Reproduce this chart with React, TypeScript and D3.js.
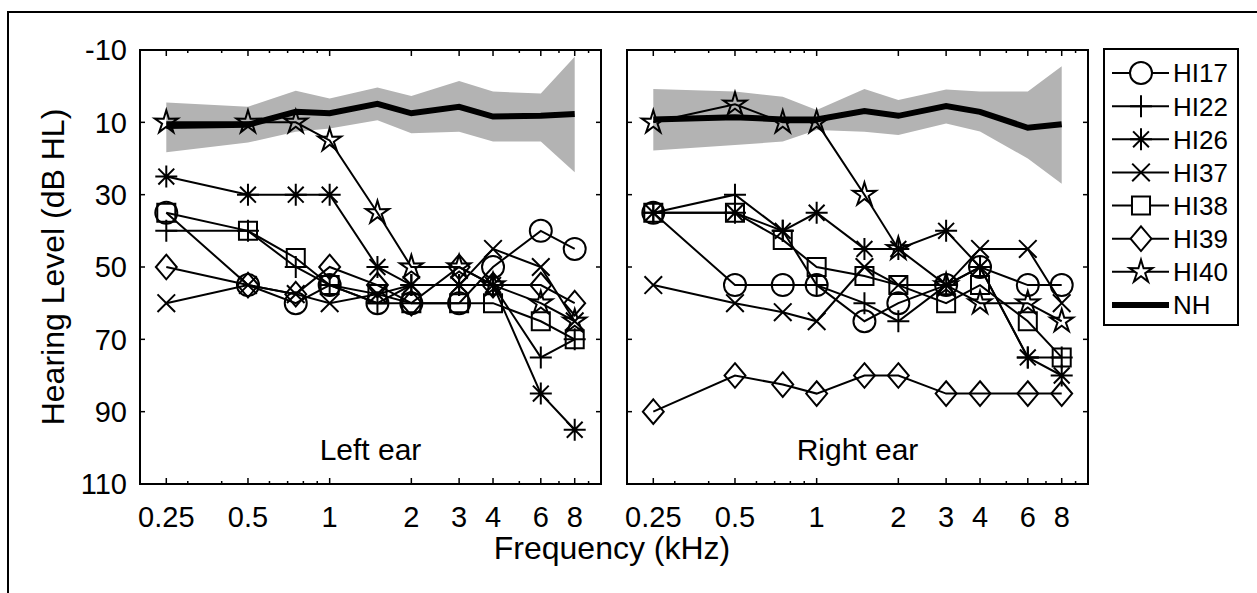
import React, { useEffect, useRef } from 'react';
import * as d3 from 'd3';

// test frequencies (kHz)
const freqs = [0.25, 0.5, 0.75, 1, 1.5, 2, 3, 4, 6, 8];
const majorTicks = [0.25, 0.5, 1, 2, 3, 4, 6, 8];
const minorTicks = [0.3, 0.4, 0.6, 0.7, 0.8, 0.9, 5, 7, 9];
const yTicks = [-10, 10, 30, 50, 70, 90, 110];

const subjects = ['HI17', 'HI22', 'HI26', 'HI37', 'HI38', 'HI39', 'HI40'];
const markerNames = ['circle', 'plus', 'asterisk', 'times', 'square', 'diamond', 'star'];

// left ear thresholds (dB HL)
const leftHI17 = [35, 55, 60, 55, 60, 60, 60, 50, 40, 45];
const leftHI22 = [40, 40, 50, 55, 60, 55, 55, 55, 75, 70];
const leftHI26 = [25, 30, 30, 30, 50, 55, 55, 55, 85, 95];
const leftHI37 = [60, 55, 57.5, 60, 57.5, 55, 55, 45, 50, 65];
const leftHI38 = [35, 40, 47.5, 55, 57.5, 60, 60, 60, 65, 70];
const leftHI39 = [50, 55, 57.5, 50, 55, 60, 50, 55, 55, 60];
const leftHI40 = [10, 10, 10, 15, 35, 50, 50, 55, 60, 65];

// right ear thresholds (dB HL)
const rightHI17 = [35, 55, 55, 55, 65, 60, 55, 50, 55, 55];
const rightHI22 = [35, 30, 40, 55, 60, 65, 55, 50, 75, 75];
const rightHI26 = [35, 35, 40, 35, 45, 45, 40, 50, 75, 80];
const rightHI37 = [55, 60, 62.5, 65, 50, 55, 55, 45, 45, 60];
const rightHI38 = [35, 35, 42.5, 50, 52.5, 55, 60, 55, 65, 75];
const rightHI39 = [90, 80, 82.5, 85, 80, 80, 85, 85, 85, 85];
const rightHI40 = [10, 5, 10, 10, 30, 45, 55, 60, 60, 65];

// normal hearing mean and range
const leftNH = [11, 10.7, 7.1, 7.5, 4.9, 7.5, 5.7, 8.4, 8.2, 7.7];
const leftNHmin = [4.5, 5.7, 1.3, 3.4, 0.4, 2.7, -1.4, 1.5, 2.0, -8.1];
const leftNHmax = [18.3, 15.6, 12.6, 11.7, 9.4, 13.0, 12.6, 15.3, 15.3, 23.8];
const rightNH = [9.2, 8.6, 9.2, 9.2, 6.9, 8.2, 5.5, 7.1, 11.5, 10.5];
const rightNHmin = [0.8, 1.5, 2.9, 6.6, 0.8, 3.8, 0.9, 1.5, 1.5, -5.5];
const rightNHmax = [17.8, 16.3, 15.3, 12.1, 12.6, 13.5, 10.3, 12.5, 20, 27];

const FONT = '"Liberation Sans", Arial, Helvetica, sans-serif';

// marker shapes, size = radius
const symbolTypes: { [k: string]: any } = {
  circle: { draw(c: any, r: number) { c.moveTo(r, 0); c.arc(0, 0, r, 0, 2 * Math.PI); } },
  plus: { draw(c: any, r: number) { c.moveTo(-r, 0); c.lineTo(r, 0); c.moveTo(0, -r); c.lineTo(0, r); } },
  asterisk: {
    draw(c: any, r: number) {
      const d = r * 0.72;
      c.moveTo(-r, 0); c.lineTo(r, 0); c.moveTo(0, -r); c.lineTo(0, r);
      c.moveTo(-d, -d); c.lineTo(d, d); c.moveTo(-d, d); c.lineTo(d, -d);
    }
  },
  times: {
    draw(c: any, r: number) {
      const d = r * 0.8;
      c.moveTo(-d, -d); c.lineTo(d, d); c.moveTo(-d, d); c.lineTo(d, -d);
    }
  },
  square: {
    draw(c: any, r: number) {
      const s = r * 0.82;
      c.moveTo(-s, -s); c.lineTo(s, -s); c.lineTo(s, s); c.lineTo(-s, s); c.closePath();
    }
  },
  diamond: {
    draw(c: any, r: number) {
      const w = r * 0.95, h = r * 1.12;
      c.moveTo(0, -h); c.lineTo(w, 0); c.lineTo(0, h); c.lineTo(-w, 0); c.closePath();
    }
  },
  star: {
    draw(c: any, r: number) {
      for (let i = 0; i < 10; i++) {
        const a = -Math.PI / 2 + i * Math.PI / 5;
        const rr = i % 2 ? r * 0.4 : r * 1.1;
        if (i === 0) c.moveTo(rr * Math.cos(a), rr * Math.sin(a));
        else c.lineTo(rr * Math.cos(a), rr * Math.sin(a));
      }
      c.closePath();
    }
  }
};

const markerPath = (name: string) => d3.symbol().type(symbolTypes[name]).size(11)() as string;

const panels = [
  { x0: 140, label: 'Left ear', series: [leftHI17, leftHI22, leftHI26, leftHI37, leftHI38, leftHI39, leftHI40],
    nh: leftNH, nhMin: leftNHmin, nhMax: leftNHmax, yLabels: true },
  { x0: 627, label: 'Right ear', series: [rightHI17, rightHI22, rightHI26, rightHI37, rightHI38, rightHI39, rightHI40],
    nh: rightNH, nhMin: rightNHmin, nhMax: rightNHmax, yLabels: false }
];

const panelW = 461;
const top = 50, bottom = 484;

export default function App() {
  const svgRef = useRef<SVGSVGElement>(null);

  useEffect(() => {
    const svg = d3.select(svgRef.current);
    svg.selectAll('*').remove();

    // outer frame
    svg.append('rect')
      .attr('x', 8).attr('y', 12).attr('width', 1400).attr('height', 800)
      .attr('fill', 'none').attr('stroke', '#000').attr('stroke-width', 2);

    const y = d3.scaleLinear().domain([-10, 110]).range([top, bottom]);

    panels.forEach(p => {
      const x = d3.scaleLog().domain([0.2, 10]).range([p.x0, p.x0 + panelW]);
      const g = svg.append('g');

      // NH range band
      const area = d3.area<number>()
        .x((d, i) => x(freqs[i]))
        .y0((d, i) => y(p.nhMin[i]))
        .y1((d, i) => y(p.nhMax[i]));
      g.append('path').datum(p.nh).attr('d', area).attr('fill', '#b3b3b3');

      const line = d3.line<number>().x((d, i) => x(freqs[i])).y(d => y(d));
      g.append('path').datum(p.nh).attr('d', line)
        .attr('fill', 'none').attr('stroke', '#000').attr('stroke-width', 6);

      // subjects
      p.series.forEach((vals, si) => {
        g.append('path').datum(vals).attr('d', line)
          .attr('fill', 'none').attr('stroke', '#000').attr('stroke-width', 2);
        g.selectAll('.m' + si).data(vals).enter()
          .append('path')
          .attr('class', 'm' + si)
          .attr('transform', (d, i) => 'translate(' + x(freqs[i]) + ',' + y(d) + ')')
          .attr('d', markerPath(markerNames[si]))
          .attr('fill', 'none').attr('stroke', '#000').attr('stroke-width', 2);
      });

      // box
      g.append('rect')
        .attr('x', p.x0).attr('y', top).attr('width', panelW).attr('height', bottom - top)
        .attr('fill', 'none').attr('stroke', '#000').attr('stroke-width', 2);

      // x ticks top & bottom
      const xt = majorTicks.map(t => ({ t, len: 6 })).concat(minorTicks.map(t => ({ t, len: 3 })));
      g.selectAll('.xtb').data(xt).enter().append('line')
        .attr('x1', d => x(d.t)).attr('x2', d => x(d.t))
        .attr('y1', bottom).attr('y2', d => bottom - d.len)
        .attr('stroke', '#000').attr('stroke-width', 1.5);
      g.selectAll('.xtt').data(xt).enter().append('line')
        .attr('x1', d => x(d.t)).attr('x2', d => x(d.t))
        .attr('y1', top).attr('y2', d => top + d.len)
        .attr('stroke', '#000').attr('stroke-width', 1.5);

      g.selectAll('.xl').data(majorTicks).enter().append('text')
        .attr('x', d => x(d)).attr('y', 527)
        .attr('text-anchor', 'middle')
        .attr('font-family', FONT).attr('font-size', 29)
        .text(d => String(d));

      // y ticks both sides
      yTicks.forEach(v => {
        g.append('line').attr('x1', p.x0).attr('x2', p.x0 + 5).attr('y1', y(v)).attr('y2', y(v))
          .attr('stroke', '#000').attr('stroke-width', 1.5);
        g.append('line').attr('x1', p.x0 + panelW).attr('x2', p.x0 + panelW - 5).attr('y1', y(v)).attr('y2', y(v))
          .attr('stroke', '#000').attr('stroke-width', 1.5);
      });
      if (p.yLabels) {
        g.selectAll('.yl').data(yTicks).enter().append('text')
          .attr('x', 127).attr('y', d => y(d)).attr('dy', '0.36em')
          .attr('text-anchor', 'end')
          .attr('font-family', FONT).attr('font-size', 29)
          .text(d => String(d));
      }

      g.append('text')
        .attr('x', p.x0 + panelW / 2).attr('y', 460)
        .attr('text-anchor', 'middle')
        .attr('font-family', FONT).attr('font-size', 30)
        .text(p.label);
    });

    // axis labels
    svg.append('text')
      .attr('x', 612).attr('y', 559)
      .attr('text-anchor', 'middle')
      .attr('font-family', FONT).attr('font-size', 32)
      .text('Frequency (kHz)');
    svg.append('text')
      .attr('transform', 'translate(64,' + (top + bottom) / 2 + ') rotate(-90)')
      .attr('text-anchor', 'middle')
      .attr('font-family', FONT).attr('font-size', 32)
      .text('Hearing Level (dB HL)');

    // legend
    const lg = svg.append('g');
    lg.append('rect')
      .attr('x', 1104).attr('y', 49).attr('width', 134).attr('height', 276)
      .attr('fill', '#fff').attr('stroke', '#000').attr('stroke-width', 2);
    const entries = subjects.concat(['NH']);
    const ly = d3.scaleLinear().domain([0, entries.length - 1]).range([73, 305]);
    entries.forEach((name, i) => {
      const yy = ly(i);
      lg.append('line').attr('x1', 1112).attr('x2', 1169).attr('y1', yy).attr('y2', yy)
        .attr('stroke', '#000').attr('stroke-width', name === 'NH' ? 6 : 2);
      if (i < subjects.length) {
        lg.append('path')
          .attr('transform', 'translate(1141,' + yy + ')')
          .attr('d', markerPath(markerNames[i]))
          .attr('fill', '#fff').attr('stroke', '#000').attr('stroke-width', 2);
      }
      lg.append('text')
        .attr('x', 1173).attr('y', yy).attr('dy', '0.36em')
        .attr('font-family', FONT).attr('font-size', 26)
        .text(name);
    });
  }, []);

  return (
    <svg ref={svgRef} width={1257} height={593}
      style={{ position: 'absolute', left: 0, top: 0, background: '#fff' }} />
  );
}
